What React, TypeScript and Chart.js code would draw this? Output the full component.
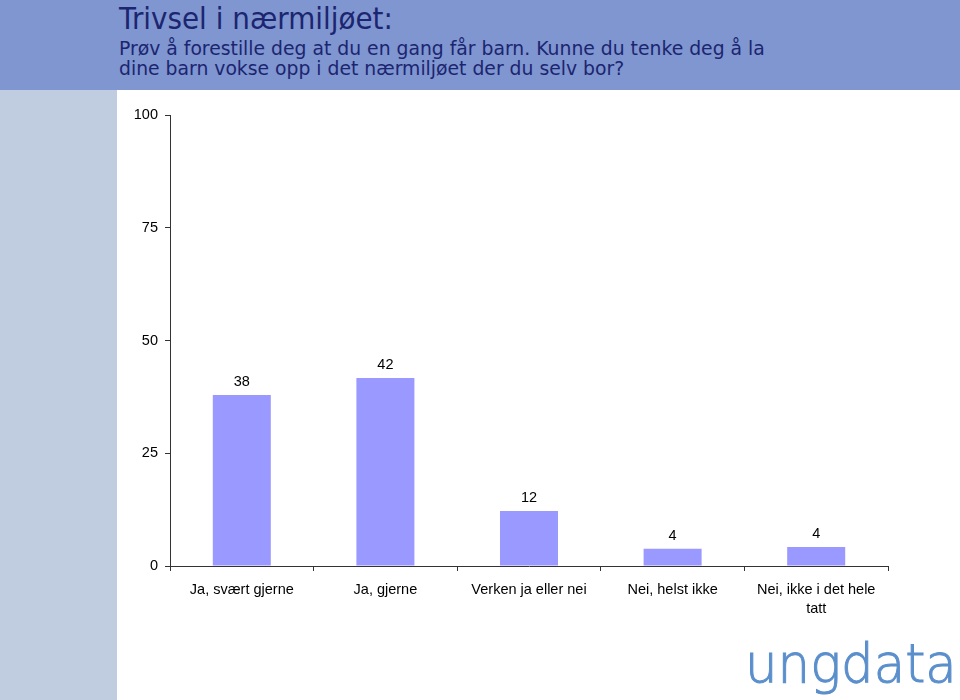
import React, { useEffect, useRef } from "react";
import { Chart, registerables } from "chart.js";

Chart.register(...registerables);

const title = "Trivsel i nærmiljøet:";
const subtitleLines = [
  "Prøv å forestille deg at du en gang får barn. Kunne du tenke deg å la",
  "dine barn vokse opp i det nærmiljøet der du selv bor?",
];
const categories: (string | string[])[] = [
  "Ja, svært gjerne",
  "Ja, gjerne",
  "Verken ja eller nei",
  "Nei, helst ikke",
  ["Nei, ikke i det hele", "tatt"],
];
const values = [37.9, 41.7, 12.2, 3.8, 4.2];
const yTicks = [0, 25, 50, 75, 100];

const valueLabels = {
  id: "valueLabels",
  afterDatasetsDraw(chart: any) {
    const ctx = chart.ctx;
    const meta = chart.getDatasetMeta(0);
    ctx.save();
    ctx.font = "14.5px 'Liberation Sans', Arial, sans-serif";
    ctx.fillStyle = "#000";
    ctx.textAlign = "center";
    ctx.textBaseline = "middle";
    meta.data.forEach((bar: any, i: number) => {
      ctx.fillText(String(Math.round(values[i])), bar.x, bar.y - 13);
    });
    ctx.restore();
  },
};

export default function App() {
  const ref = useRef<HTMLCanvasElement>(null);
  useEffect(() => {
    const chart = new Chart(ref.current!, {
      type: "bar",
      data: {
        labels: categories,
        datasets: [
          {
            data: values,
            backgroundColor: "#9999ff",
            borderWidth: 0,
            barPercentage: 0.404,
            categoryPercentage: 1,
          },
        ],
      },
      options: {
        animation: false,
        responsive: false,
        maintainAspectRatio: false,
        layout: { padding: { top: 25, right: 72, left: 0, bottom: 0 } },
        plugins: { legend: { display: false }, tooltip: { enabled: false } },
        scales: {
          y: {
            min: 0,
            max: 100,
            afterBuildTicks: (s: any) => {
              s.ticks = yTicks.map((v) => ({ value: v }));
            },
            afterFit: (s: any) => {
              s.width = 53;
            },
            ticks: {
              color: "#000",
              padding: 7,
              font: { family: "'Liberation Sans', Arial, sans-serif", size: 14.5 },
            },
            grid: { drawOnChartArea: false, drawTicks: true, tickLength: 5, color: "#333" },
            border: { color: "#333", width: 1 },
          },
          x: {
            afterFit: (s: any) => {
              s.height = 134;
            },
            ticks: {
              color: "#000",
              padding: 10,
              maxRotation: 0,
              autoSkip: false,
              font: { family: "'Liberation Sans', Arial, sans-serif", size: 14.5, lineHeight: 1.3 },
            },
            grid: { offset: true, drawOnChartArea: false, drawTicks: true, tickLength: 5, color: "#333" },
            border: { color: "#333", width: 1 },
          },
        },
      },
      plugins: [valueLabels],
    });
    return () => chart.destroy();
  }, []);

  return (
    <div style={{ position: "absolute", left: 0, top: 0, width: 960, height: 700, background: "#fff", overflow: "hidden" }}>
      <div style={{ position: "absolute", left: 0, top: 0, width: 960, height: 90, background: "#7f96d0" }} />
      <div style={{ position: "absolute", left: 0, top: 90, width: 117, height: 610, background: "#c0cce0" }} />
      <div
        style={{
          position: "absolute",
          left: 119,
          top: 1,
          fontFamily: "'DejaVu Sans', Verdana, sans-serif",
          color: "#1c2570",
          fontSize: 30,
          lineHeight: "36px",
          whiteSpace: "nowrap",
          transform: "scaleX(0.927)",
          transformOrigin: "left top",
        }}
      >
        {title}
      </div>
      <div
        style={{
          position: "absolute",
          left: 119,
          top: 39,
          fontFamily: "'DejaVu Sans', Verdana, sans-serif",
          color: "#1c2570",
          fontSize: 18.8,
          lineHeight: "20px",
          whiteSpace: "nowrap",
        }}
      >
        {subtitleLines.map((l, i) => (
          <div key={i}>{l}</div>
        ))}
      </div>
      <canvas ref={ref} width={843} height={610} style={{ position: "absolute", left: 117, top: 90, width: 843, height: 610 }} />
      <div
        style={{
          position: "absolute",
          left: 745,
          top: 634,
          fontFamily: "'DejaVu Sans', sans-serif",
          fontWeight: 200,
          fontSize: 53,
          lineHeight: "60px",
          color: "#5b8fcc",
          WebkitTextStroke: "1px #5b8fcc",
          whiteSpace: "nowrap",
          transform: "scaleX(0.97)",
          transformOrigin: "left top",
        }}
      >
        ungdata
      </div>
    </div>
  );
}
